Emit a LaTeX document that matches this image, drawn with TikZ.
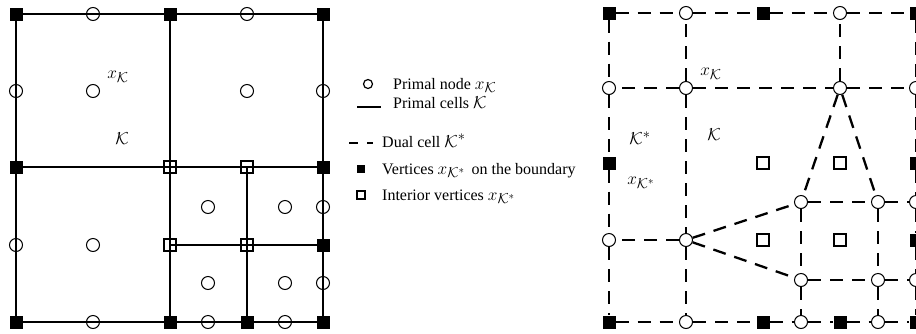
\documentclass[tikz,border=0pt]{standalone}
\usepackage{fontspec}
\setmainfont{Liberation Serif}
\DeclareMathSizes{16}{16}{14}{11}
\usetikzlibrary{backgrounds}
\begin{document}
\begin{tikzpicture}[x=1pt,y=-1pt,
  every node/.style={font=\fontsize{16}{19}\selectfont},
  bv/.style={rectangle,fill=black,minimum size=13pt,inner sep=0pt},
  iv/.style={rectangle,draw,line width=1.4pt,minimum size=12pt,inner sep=0pt},
  ivr/.style={rectangle,draw,fill=white,line width=2.3pt,minimum size=12pt,inner sep=0pt},
  pn/.style={circle,draw,line width=1pt,minimum size=13pt,inner sep=0pt},
  pnr/.style={pn,fill=white},
  primal/.style={line width=2pt},
  dual/.style={line width=2.3pt,dash pattern=on 13pt off 9pt},
  lbl/.style={inner sep=0pt}
]
\clip (0,0) rectangle (916,333);

% ---------------- left diagram: primal mesh ----------------
\node[bv] (LA) at (16,14) {};
\node[bv] (LB) at (170,14) {};
\node[bv] (LC) at (323,14) {};
\node[bv] (LD) at (16,167) {};
\node[bv] (LE) at (323,167) {};
\node[bv] (LF) at (323,245) {};
\node[bv] (LG) at (16,322) {};
\node[bv] (LH) at (170,322) {};
\node[bv] (LI) at (247,322) {};
\node[bv] (LJ) at (323,322) {};
\node[iv] (LK) at (170,167) {};
\node[iv] (LL) at (247,167) {};
\node[iv] (LM) at (170,245) {};
\node[iv] (LN) at (247,245) {};

\node[pn] (Lt1) at (93,14) {};
\node[pn] (Lt2) at (247,14) {};
\node[pn] (Ll1) at (16,91) {};
\node[pn] (Ll2) at (16,245) {};
\node[pn] (Lr1) at (323,91) {};
\node[pn] (Lr2) at (323,207) {};
\node[pn] (Lr3) at (323,283) {};
\node[pn] (Lb1) at (93,322) {};
\node[pn] (Lb2) at (208,322) {};
\node[pn] (Lb3) at (285,322) {};
\node[pn] (Lc1) at (93,91) {};
\node[pn] (Lc2) at (247,91) {};
\node[pn] (Lc3) at (93,245) {};
\node[pn] (Lc4) at (208,207) {};
\node[pn] (Lc5) at (285,207) {};
\node[pn] (Lc6) at (208,283) {};
\node[pn] (Lc7) at (285,283) {};

\node[lbl] (l1) at (118,77) {$x_{\mathcal K}$};
\node[lbl] (l2) at (122,139) {$\mathcal K$};

\begin{pgfonlayer}{background}
\draw[primal] (LA.center) -- (LB.center) -- (LC.center) -- (LE.center) -- (LF.center) -- (LJ.center)
   -- (LI.center) -- (LH.center) -- (LG.center) -- (LD.center) -- cycle;
\draw[primal] (LB.center) -- (LK.center) -- (LM.center) -- (LH.center);
\draw[primal] (LD.center) -- (LK.center) -- (LL.center) -- (LE.center);
\draw[primal] (LL.center) -- (LN.center) -- (LI.center);
\draw[primal] (LM.center) -- (LN.center) -- (LF.center);
\end{pgfonlayer}

% ---------------- legend ----------------
\node[pn,minimum size=9pt,line width=1.2pt] (g1) at (368,84) {};
\node[lbl,anchor=base west] (t1) at (393,89) {Primal node $x_{\mathcal K}$};
\coordinate (g2a) at (357,107);
\coordinate (g2b) at (381,107);
\draw[line width=2.5pt] (g2a) -- (g2b);
\node[lbl,anchor=base west] (t2) at (393,108) {Primal cells $\mathcal K$};
\coordinate (g3a) at (349,143);
\coordinate (g3b) at (373,143);
\draw[line width=1.5pt,dash pattern=on 9pt off 9pt on 6pt off 9pt] (g3a) -- (g3b);
\node[lbl,anchor=base west] (t3) at (382,147) {Dual cell $\mathcal K^*$};
\node[bv,minimum size=8pt] (g4) at (361,169) {};
\node[lbl,anchor=base west] (t4) at (382,174) {Vertices $x_{\mathcal K^*}$\,\ on the boundary};
\node[iv,minimum size=8pt,line width=1.8pt] (g5) at (361,195) {};
\node[lbl,anchor=base west] (t5) at (382,200) {Interior vertices $x_{\mathcal K^*}$};

% ---------------- right diagram: dual mesh ----------------
\node[bv] (RA) at (609,13) {};
\node[bv] (RB) at (763,13) {};
\node[bv] (RC) at (916,13) {};
\node[bv] (RD) at (609,163) {};
\node[bv] (RE) at (916,163) {};
\node[bv] (RF) at (916,240) {};
\node[bv] (RG) at (609,322) {};
\node[bv] (RH) at (763,322) {};
\node[bv] (RI) at (840,322) {};
\node[bv] (RJ) at (916,322) {};
\node[ivr] (RK) at (763,163) {};
\node[ivr] (RL) at (840,163) {};
\node[ivr] (RM) at (763,240) {};
\node[ivr] (RN) at (840,240) {};

\node[pnr] (Rt1) at (686,13) {};
\node[pnr] (Rt2) at (840,13) {};
\node[pnr] (Rl1) at (609,88) {};
\node[pnr] (Rl2) at (609,240) {};
\node[pnr] (Rr1) at (916,88) {};
\node[pnr] (Rr2) at (916,202) {};
\node[pnr] (Rr3) at (916,280) {};
\node[pnr] (Rb1) at (686,322) {};
\node[pnr] (Rb2) at (801,322) {};
\node[pnr] (Rb3) at (878,322) {};
\node[pnr] (Rc1) at (686,88) {};
\node[pnr] (Rc2) at (840,88) {};
\node[pnr] (Rc3) at (686,240) {};
\node[pnr] (Rc4) at (801,202) {};
\node[pnr] (Rc5) at (878,202) {};
\node[pnr] (Rc6) at (801,280) {};
\node[pnr] (Rc7) at (878,280) {};

\node[lbl] (r1) at (711,74) {$x_{\mathcal K}$};
\node[lbl] (r2) at (714,135) {$\mathcal K$};
\node[lbl] (r3) at (640,138) {$\mathcal K^*$};
\node[lbl] (r4) at (641,183) {$x_{\mathcal K^*}$};

% boundary
\draw[dual] (RA) -- (Rt1);
\draw[dual] (Rt1) -- (RB);
\draw[dual] (RB) -- (Rt2);
\draw[dual] (Rt2) -- (RC);
\draw[dual] (RA) -- (Rl1);
\draw[dual] (Rl1) -- (RD);
\draw[dual] (RD) -- (Rl2);
\draw[dual] (Rl2) -- (RG);
\draw[dual] (RG) -- (Rb1);
\draw[dual] (Rb1) -- (RH);
\draw[dual] (RH) -- (Rb2);
\draw[dual] (Rb2) -- (RI);
\draw[dual] (RI) -- (Rb3);
\draw[dual] (Rb3) -- (RJ);
\draw[dual] (RC) -- (Rr1);
\draw[dual] (Rr1) -- (RE);
\draw[dual] (RE) -- (Rr2);
\draw[dual] (Rr2) -- (RF);
\draw[dual] (RF) -- (Rr3);
\draw[dual] (Rr3) -- (RJ);
% interior
\draw[dual] (Rc1) -- (Rl1);
\draw[dual] (Rc1) -- (Rc2);
\draw[dual] (Rc2) -- (Rr1);
\draw[dual] (Rc1) -- (Rt1);
\draw[dual] (Rc1) -- (Rc3);
\draw[dual] (Rc3) -- (Rb1);
\draw[dual] (Rc2) -- (Rt2);
\draw[dual] (Rc3) -- (Rl2);
\draw[dual] (Rc3) -- (Rc4);
\draw[dual] (Rc3) -- (Rc6);
\draw[dual] (Rc2) -- (Rc4);
\draw[dual] (Rc2) -- (Rc5);
\draw[dual] (Rc4) -- (Rc5);
\draw[dual] (Rc5) -- (Rr2);
\draw[dual] (Rc6) -- (Rc7);
\draw[dual] (Rc7) -- (Rr3);
\draw[dual] (Rc4) -- (Rc6);
\draw[dual] (Rc6) -- (Rb2);
\draw[dual] (Rc5) -- (Rc7);
\draw[dual] (Rc7) -- (Rb3);
\end{tikzpicture}
\end{document}
